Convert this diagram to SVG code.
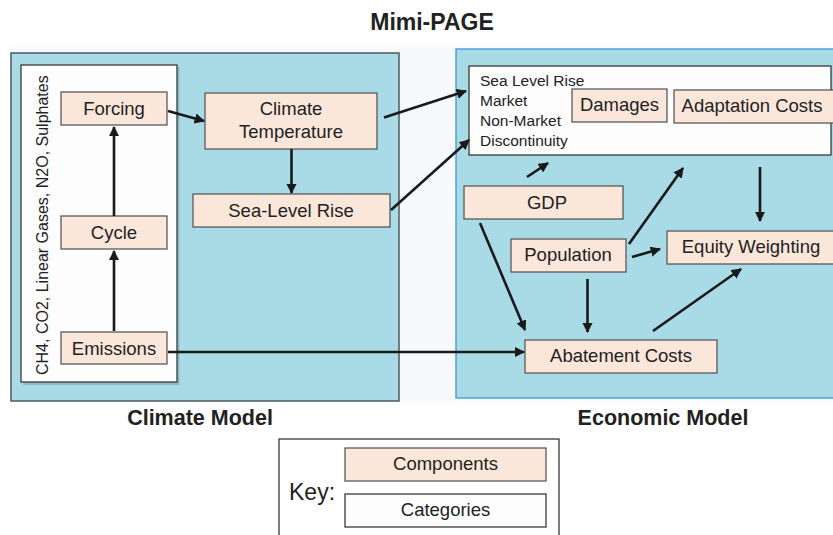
<svg xmlns="http://www.w3.org/2000/svg" width="833" height="535" viewBox="0 0 833 535">
<defs>
<marker id="ah" viewBox="0 0 10 10" refX="9" refY="5" markerWidth="4" markerHeight="4" orient="auto" markerUnits="strokeWidth">
<path d="M0,0 L10,5 L0,10 z" fill="#1a1a1a"/>
</marker>
<style>
text{font-family:"Liberation Sans",Arial,sans-serif;fill:#222}
.comp{fill:#fbe6da;stroke:#5a5a5a;stroke-width:1.3}
.cat{fill:#fdfdfd;stroke:#3a3a3a;stroke-width:1.3}
.lbl{font-size:18.5px;text-anchor:middle}
.sm{font-size:15.5px}
.ttl{font-weight:bold;text-anchor:middle}
.con{stroke:#1a1a1a;stroke-width:2.6;fill:none;marker-end:url(#ah)}
</style>
</defs>
<rect width="833" height="535" fill="#ffffff"/>
<rect x="10" y="47" width="823" height="354" fill="#f7f9fd"/>
<text class="ttl" x="432" y="30" font-size="23">Mimi-PAGE</text>

<g id="climate-model">
<rect x="11" y="53" width="388" height="348" fill="#a8dbe6" stroke="#505a60" stroke-width="1.5"/>
<text class="ttl" x="200" y="425" font-size="21.5">Climate Model</text>
</g>
<g id="economic-model">
<rect x="456" y="49" width="380" height="349" fill="#a8dbe6" stroke="#3d97d3" stroke-width="1.3"/>
<text class="ttl" x="663" y="425" font-size="21.5">Economic Model</text>
</g>

<g id="gases">
<rect x="23.5" y="67" width="156" height="318" fill="#6b7b80" opacity="0.35"/>
<rect x="21" y="65" width="156" height="317" class="cat"/>
<text class="sm" font-size="16" transform="translate(48,375) rotate(-90)" style="font-size:16px">CH4, CO2, Linear Gases, N2O, Sulphates</text>
</g>

<g id="forcing">
<rect x="61" y="92" width="106" height="33" class="comp"/>
<text class="lbl" x="114" y="115">Forcing</text>
</g>
<g id="cycle">
<rect x="61" y="216" width="106" height="33" class="comp"/>
<text class="lbl" x="114" y="239">Cycle</text>
</g>
<g id="emissions">
<rect x="61" y="332" width="106" height="32" class="comp"/>
<text class="lbl" x="114" y="355">Emissions</text>
</g>
<g id="climate-temperature">
<rect x="205" y="93" width="172" height="56" class="comp"/>
<text class="lbl" x="291" y="115">Climate</text>
<text class="lbl" x="291" y="138">Temperature</text>
</g>
<g id="sea-level-rise">
<rect x="193" y="194" width="197" height="33" class="comp"/>
<text class="lbl" x="291" y="217">Sea-Level Rise</text>
</g>

<g id="damages-category">
<rect x="469" y="66" width="362" height="89" class="cat"/>
<text class="sm" x="480" y="86">Sea Level Rise</text>
<text class="sm" x="480" y="106">Market</text>
<text class="sm" x="480" y="126">Non-Market</text>
<text class="sm" x="480" y="146">Discontinuity</text>
</g>
<g id="damages">
<rect x="572" y="89" width="95" height="33" class="comp"/>
<text class="lbl" x="619.5" y="111">Damages</text>
</g>
<g id="adaptation-costs">
<rect x="674" y="90" width="160" height="33" class="comp"/>
<text class="lbl" x="752" y="112">Adaptation Costs</text>
</g>
<g id="gdp">
<rect x="464" y="186" width="159" height="33" class="comp"/>
<text class="lbl" x="547" y="209">GDP</text>
</g>
<g id="population">
<rect x="511" y="239" width="115" height="33" class="comp"/>
<text class="lbl" x="568" y="261">Population</text>
</g>
<g id="equity-weighting">
<rect x="667" y="231" width="170" height="33" class="comp"/>
<text class="lbl" x="751" y="253">Equity Weighting</text>
</g>
<g id="abatement-costs">
<rect x="525" y="340" width="192" height="33" class="comp"/>
<text class="lbl" x="621" y="362">Abatement Costs</text>
</g>

<g id="key">
<rect x="279" y="439" width="280" height="100" fill="#ffffff" stroke="#3a3a3a" stroke-width="1.3"/>
<text x="289" y="500" style="font-size:23px">Key:</text>
<rect x="345" y="448" width="201" height="33" class="comp"/>
<text class="lbl" x="445.5" y="470">Components</text>
<rect x="345" y="494" width="201" height="33" class="cat"/>
<text class="lbl" x="445.5" y="516">Categories</text>
</g>

<g id="connectors">
<line class="con" x1="114" y1="331" x2="114" y2="251"/>
<line class="con" x1="114" y1="216" x2="114" y2="127"/>
<line class="con" x1="168" y1="111" x2="204" y2="121"/>
<line class="con" x1="291.5" y1="149" x2="291.5" y2="193"/>
<line class="con" x1="384" y1="117.5" x2="466" y2="91"/>
<line class="con" x1="391" y1="210" x2="469" y2="140"/>
<line class="con" x1="168" y1="352" x2="524" y2="352"/>
<line class="con" x1="527" y1="177" x2="548" y2="163"/>
<line class="con" x1="629" y1="244" x2="683" y2="168"/>
<line class="con" x1="760" y1="167" x2="760" y2="221"/>
<line class="con" x1="632" y1="257" x2="660" y2="249"/>
<line class="con" x1="480" y1="223" x2="525" y2="330"/>
<line class="con" x1="587.5" y1="279" x2="587.5" y2="332"/>
<line class="con" x1="653" y1="331" x2="741" y2="269"/>
</g>
</svg>
